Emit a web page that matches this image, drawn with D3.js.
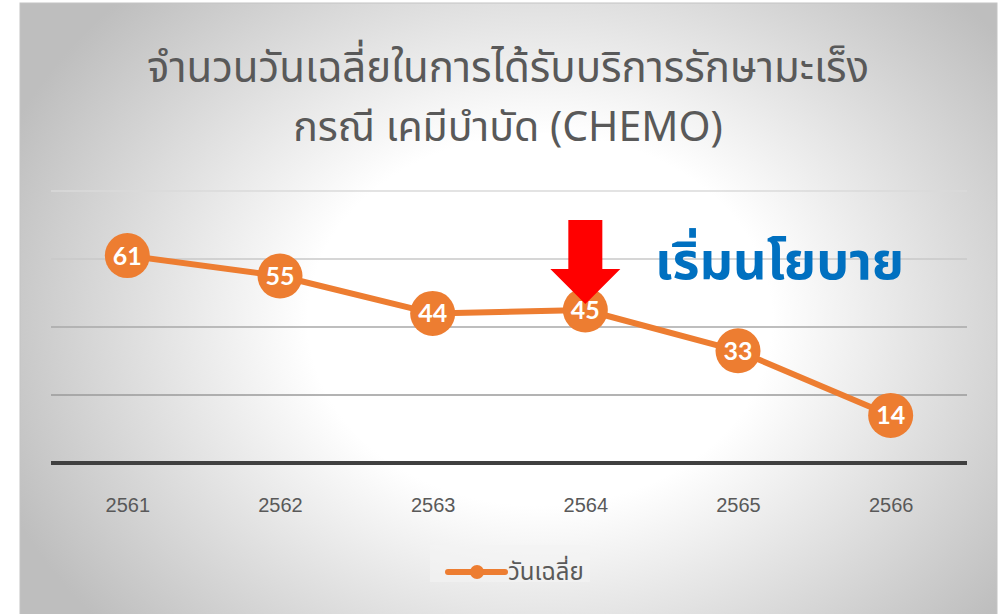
<!DOCTYPE html>
<html>
<head>
<meta charset="utf-8">
<script src="https://cdn.jsdelivr.net/npm/d3@7/dist/d3.min.js"></script>
<style>
  html, body { margin: 0; padding: 0; background: #ffffff; }
  svg { display: block; }
</style>
</head>
<body>
<svg id="chart" width="1002" height="614"></svg>
<script>
// Average length of stay, chemotherapy cases, by fiscal year (B.E.)
const years = ["2561", "2562", "2563", "2564", "2565", "2566"];
const avgDays = [61, 55, 44, 45, 33, 14];
const yTicks = [0, 20, 40, 60, 80];
const titleLines = ["จำนวนวันเฉลี่ยในการได้รับบริการรักษามะเร็ง", "กรณี เคมีบำบัด (CHEMO)"];
const seriesName = "วันเฉลี่ย";
const policyLabel = "เริ่มนโยบาย";
const policyYear = "2564";

const W = 1002, H = 614;
const orange = "#ED7D31";
const textGray = "#595959";
const thaiFont = "'Noto Sans Thai', 'Noto Sans', 'DejaVu Sans', sans-serif";

const svg = d3.select("#chart");
const defs = svg.append("defs");

const grad = defs.append("radialGradient")
  .attr("id", "bg")
  .attr("gradientUnits", "userSpaceOnUse")
  .attr("cx", 540).attr("cy", 320).attr("r", 580)
  .attr("gradientTransform", "translate(540,320) scale(1,0.8) translate(-540,-320)");
grad.append("stop").attr("offset", "0").attr("stop-color", "#ffffff");
grad.append("stop").attr("offset", "0.4").attr("stop-color", "#ffffff");
grad.append("stop").attr("offset", "1").attr("stop-color", "#bebebe");

// chart panel
svg.append("rect")
  .attr("x", 20).attr("y", 3).attr("width", 977).attr("height", 614)
  .attr("fill", "url(#bg)")
  .attr("stroke", "#c4c4c4").attr("stroke-width", 1);

// title, one text per line
titleLines.forEach((line, i) => {
  svg.append("text")
    .attr("x", 508).attr("y", 82 + i * 59)
    .attr("text-anchor", "middle")
    .attr("fill", textGray)
    .style("font-family", thaiFont)
    .style("font-size", i === 0 ? "42px" : "41px")
    .text(line);
});

// scales
const x = d3.scalePoint().domain(years).range([51, 967]).padding(0.5);
const y = d3.scaleLinear().domain([0, 80]).range([463, 191]);

// gridlines
svg.append("g")
  .selectAll("line")
  .data(yTicks.filter(d => d > 0))
  .join("line")
  .attr("x1", 51).attr("x2", 967)
  .attr("y1", d => y(d)).attr("y2", d => y(d))
  .attr("stroke", (d, i) => ["#9a9a9a", "#a8a8a8", "#c8c8c8", "#dadada"][i])
  .attr("stroke-width", 1.5);

// category axis
const xAxis = svg.append("g")
  .attr("transform", `translate(0,${y(0)})`)
  .call(d3.axisBottom(x).tickSize(0).tickPadding(35));
xAxis.select(".domain")
  .attr("d", `M51,0H967`)
  .attr("stroke", "#404040").attr("stroke-width", 4);
xAxis.selectAll("text")
  .attr("fill", textGray)
  .style("font-family", "'Liberation Sans', Arial, sans-serif")
  .style("font-size", "20px");

// series line
const line = d3.line().x((d, i) => x(years[i])).y(d => y(d));
svg.append("path")
  .datum(avgDays)
  .attr("d", line)
  .attr("fill", "none")
  .attr("stroke", orange)
  .attr("stroke-width", 6)
  .attr("stroke-linejoin", "round");

// markers with value labels
const pts = svg.append("g")
  .selectAll("g")
  .data(avgDays)
  .join("g")
  .attr("transform", (d, i) => `translate(${x(years[i])},${y(d)})`);
pts.append("circle").attr("r", 22.5).attr("fill", orange);
pts.append("text")
  .attr("text-anchor", "middle")
  .attr("dy", "0.36em")
  .attr("fill", "#ffffff")
  .style("font-family", "Lato, 'Open Sans', sans-serif")
  .style("font-weight", "bold")
  .style("font-size", "25px")
  .text(d => d);

// policy start marker: red down arrow above the 2564 point
const ax = x(policyYear);
const arrow = d3.path();
arrow.moveTo(ax - 17, 220);
arrow.lineTo(ax + 17, 220);
arrow.lineTo(ax + 17, 269);
arrow.lineTo(ax + 35, 269);
arrow.lineTo(ax, 304);
arrow.lineTo(ax - 35, 269);
arrow.lineTo(ax - 17, 269);
arrow.closePath();
svg.append("path").attr("d", arrow.toString()).attr("fill", "#ff0000");

svg.append("text")
  .attr("x", 655).attr("y", 279)
  .attr("fill", "#0070C0")
  .style("font-family", thaiFont)
  .style("font-weight", "bold")
  .style("font-size", "52px")
  .text(policyLabel);

// legend
const lg = svg.append("g");
lg.append("rect")
  .attr("x", 430).attr("y", 545).attr("width", 160).attr("height", 37)
  .attr("fill", "#f4f4f4").attr("opacity", 0.6);
lg.append("line")
  .attr("x1", 448).attr("x2", 505).attr("y1", 572).attr("y2", 572)
  .attr("stroke", orange).attr("stroke-width", 6).attr("stroke-linecap", "round");
lg.append("circle").attr("cx", 477).attr("cy", 572).attr("r", 7).attr("fill", orange);
lg.append("text")
  .attr("x", 508).attr("y", 580)
  .attr("fill", textGray)
  .style("font-family", thaiFont)
  .style("font-size", "24px")
  .text(seriesName);
</script>
</body>
</html>
